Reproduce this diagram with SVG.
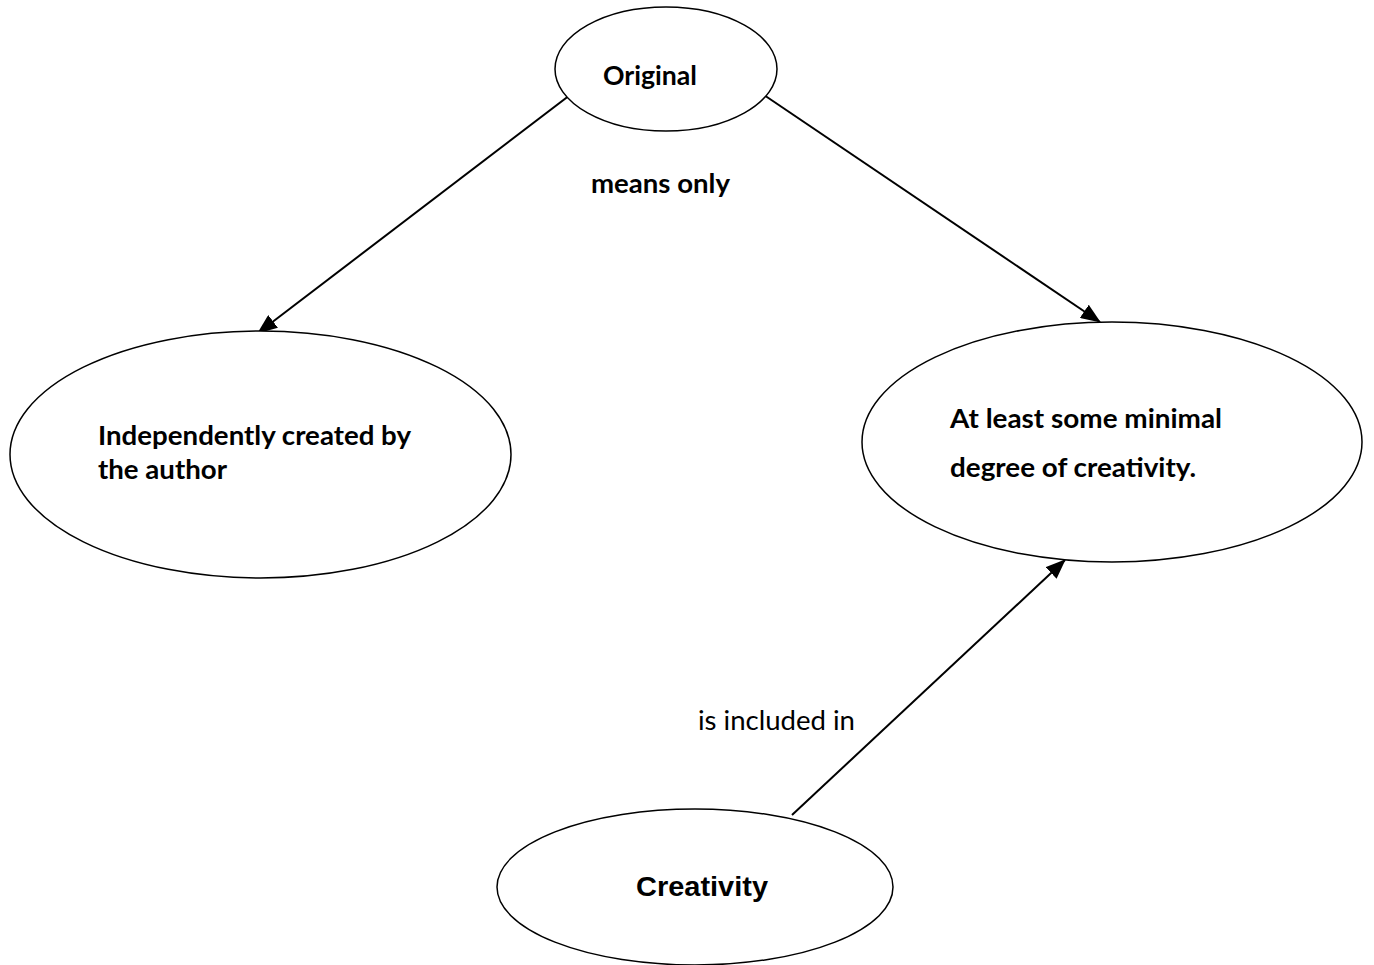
<svg xmlns="http://www.w3.org/2000/svg" width="1374" height="965" viewBox="0 0 1374 965">
<style>
.node{fill:#fff;stroke:#000;stroke-width:1.5}
.lbl{font-family:Lato,"Liberation Sans",sans-serif;font-weight:bold;font-size:27.5px;fill:#000}
.reg{font-family:Lato,"Liberation Sans",sans-serif;font-size:27.5px;fill:#000}
.edge{stroke:#000;stroke-width:2;fill:none}
</style>
<defs>
<marker id="ah" markerWidth="20" markerHeight="16" refX="19" refY="8" orient="auto" markerUnits="userSpaceOnUse">
<path d="M0,0 L20,8 L0,16 Z" fill="#000"/>
</marker>
</defs>
<rect width="1374" height="965" fill="#fff"/>
<g id="connectors">
<line class="edge" x1="570" y1="95" x2="258" y2="333" marker-end="url(#ah)"/>
<line class="edge" x1="764" y1="95" x2="1100" y2="322" marker-end="url(#ah)"/>
<line class="edge" x1="792" y1="815" x2="1065" y2="560" marker-end="url(#ah)"/>
<text class="lbl" x="591" y="193" textLength="139" lengthAdjust="spacingAndGlyphs">means only</text>
<text class="reg" x="698" y="730" textLength="157" lengthAdjust="spacingAndGlyphs">is included in</text>
</g>
<g id="original">
<ellipse class="node" cx="666" cy="69" rx="111" ry="62"/>
<text class="lbl" x="603" y="85" textLength="94" lengthAdjust="spacingAndGlyphs">Original</text>
</g>
<g id="independent">
<ellipse class="node" cx="260.5" cy="454.5" rx="250.5" ry="123.5"/>
<text class="lbl" x="98" y="445" textLength="313" lengthAdjust="spacingAndGlyphs">Independently created by</text>
<text class="lbl" x="98" y="479" textLength="129" lengthAdjust="spacingAndGlyphs">the author</text>
</g>
<g id="minimal">
<ellipse class="node" cx="1112" cy="442" rx="250" ry="120"/>
<text class="lbl" x="950" y="428" textLength="272" lengthAdjust="spacingAndGlyphs">At least some minimal</text>
<text class="lbl" x="950" y="477" textLength="246" lengthAdjust="spacingAndGlyphs">degree of creativity.</text>
</g>
<g id="creativity">
<ellipse class="node" cx="695" cy="887" rx="198" ry="78"/>
<text x="636" y="896" textLength="132" lengthAdjust="spacingAndGlyphs" style="font-family:'Liberation Sans',Arial,sans-serif;font-weight:bold;font-size:28px">Creativity</text>
</g>
</svg>
